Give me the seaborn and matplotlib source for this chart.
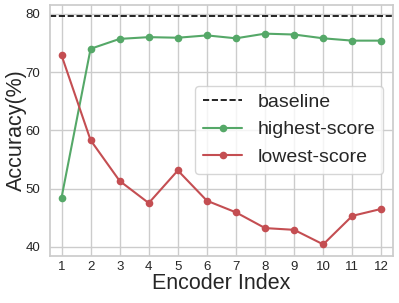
import matplotlib
matplotlib.use("Agg")
import matplotlib.pyplot as plt
import seaborn as sns
import pandas as pd

encoder_index = list(range(1, 13))
highest_score = [48.4, 74.0, 75.7, 76.0, 75.9, 76.3, 75.8, 76.6, 76.45, 75.8, 75.4, 75.4]
lowest_score = [72.9, 58.3, 51.3, 47.5, 53.1, 47.9, 45.9, 43.2, 42.9, 40.4, 45.3, 46.5]
baseline = 79.7

sns.set_theme(style="whitegrid")
plt.rcParams['font.family'] = ['Liberation Sans', 'DejaVu Sans']

fig, ax = plt.subplots(figsize=(3.99, 3.03), dpi=100)
ax.axhline(baseline, color="black", linestyle="--", linewidth=1.2, label="baseline")
df = pd.DataFrame({"x": encoder_index, "high": highest_score, "low": lowest_score})
sns.lineplot(data=df, x="x", y="high", ax=ax, color="#55a868", marker="o",
             markersize=5.5, markeredgewidth=0, linewidth=1.5, label="highest-score")
sns.lineplot(data=df, x="x", y="low", ax=ax, color="#c44e52", marker="o",
             markersize=5.5, markeredgewidth=0, linewidth=1.5, label="lowest-score")

ax.set_xlim(0.6, 12.4)
ax.set_ylim(38.4, 81.6)
ax.set_xticks(encoder_index)
ax.set_yticks([40, 50, 60, 70, 80])
ax.tick_params(axis="x", labelsize=9.5, pad=3.5, length=0)
ax.tick_params(axis="y", labelsize=9.5, pad=7, length=0)
ax.set_xlabel("Encoder Index", fontsize=15.5)
ax.set_ylabel("Accuracy(%)", fontsize=15.5)
ax.xaxis.set_label_coords(0.5, -0.066)
ax.yaxis.set_label_coords(-0.068, 0.5)
for s in ax.spines.values():
    s.set_color("#cccccc")
ax.legend(loc="upper right", bbox_to_anchor=(0.971, 0.677), fontsize=14, handlelength=2.0,
          borderaxespad=0)
fig.subplots_adjust(left=0.125, right=0.985, top=0.985, bottom=0.155)
fig.savefig("out.png", dpi=100)
